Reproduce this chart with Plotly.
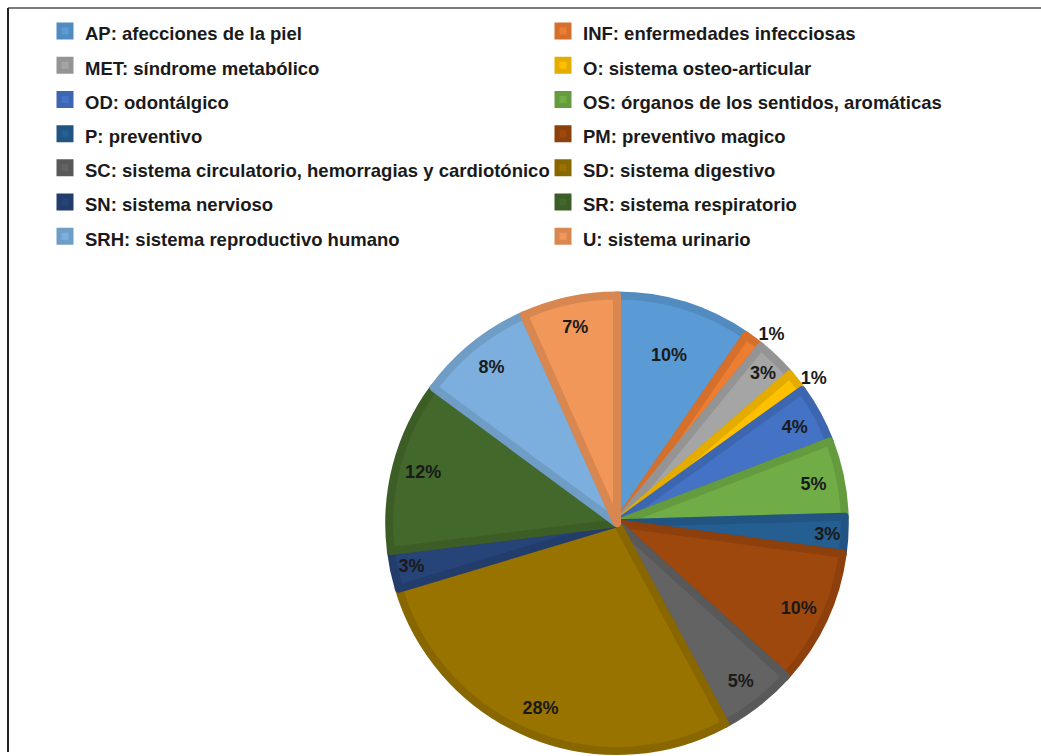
import plotly.graph_objects as go

W, H = 1041, 756

labels = [
    "AP: afecciones de la piel",
    "INF: enfermedades infecciosas",
    "MET: síndrome metabólico",
    "O: sistema osteo-articular",
    "OD: odontálgico",
    "OS: órganos de los sentidos, aromáticas",
    "P: preventivo",
    "PM: preventivo magico",
    "SC: sistema circulatorio, hemorragias y cardiotónico",
    "SD: sistema digestivo",
    "SN: sistema nervioso",
    "SR: sistema respiratorio",
    "SRH: sistema reproductivo humano",
    "U: sistema urinario",
]
values = [9.6, 1.3, 2.8, 1.4, 4.1, 5.4, 2.6, 9.6, 5.4, 28.3, 2.7, 12.1, 8.2, 6.7]
colors = [
    "#5B9BD5", "#ED7D31", "#A5A5A5", "#FFC000", "#4472C4", "#70AD47", "#255E91",
    "#9E480E", "#636363", "#997300", "#264478", "#43682B", "#7CAFDD", "#F1975A",
]
outside_labels = ["INF: enfermedades infecciosas", "O: sistema osteo-articular"]
main_labelled = ["AP: afecciones de la piel"]


def darker(hex_color, f=0.9):
    h = hex_color.lstrip("#")
    r, g, b = (int(h[i:i + 2], 16) for i in (0, 2, 4))
    return "#%02X%02X%02X" % (int(r * f), int(g * f), int(b * f))


border_colors = [darker(c) for c in colors]
legend_text = [f"<span style='font-size:18.5px'>{l}</span>" for l in labels]

# pie geometry (pixels); stroke of 8px adds 4px outside the radius
cx, cy, R = 617, 526, 229
dom_x = [(cx - R) / W, (cx + R) / W]
dom_y = [1 - (cy + R) / H, 1 - (cy - R) / H]

main_pos = ["inside" if l in main_labelled else "none" for l in labels]
ring_pos = [
    "none" if l in main_labelled else ("outside" if l in outside_labels else "inside")
    for l in labels
]

label_font = dict(family="Liberation Sans", size=18, color="#1a1a1a", weight="bold")

fig = go.Figure()
fig.add_trace(go.Pie(
    labels=legend_text,
    values=values,
    sort=False,
    direction="clockwise",
    rotation=0,
    marker=dict(colors=colors, line=dict(color=border_colors, width=8)),
    texttemplate="%{percent:.0%}",
    textposition=main_pos,
    insidetextorientation="auto",
    textfont=label_font,
    domain=dict(x=dom_x, y=dom_y),
    showlegend=True,
    hoverinfo="label+percent",
))
fig.add_trace(go.Pie(
    labels=legend_text,
    values=values,
    sort=False,
    direction="clockwise",
    rotation=0,
    hole=0.76,
    marker=dict(colors=["rgba(0,0,0,0)"] * len(labels), line=dict(width=0)),
    texttemplate="%{percent:.0%}",
    textposition=ring_pos,
    insidetextorientation="auto",
    textfont=label_font,
    domain=dict(x=dom_x, y=dom_y),
    showlegend=False,
    hoverinfo="skip",
))

fig.update_layout(
    width=W, height=H,
    autosize=False,
    margin=dict(l=0, r=0, t=0, b=0),
    paper_bgcolor="white",
    plot_bgcolor="white",
    uniformtext=dict(minsize=18, mode="show"),
    legend=dict(
        orientation="h",
        x=63 / W, xanchor="left",
        y=1 - 9 / H, yanchor="top",
        entrywidth=453, entrywidthmode="pixels",
        font=dict(family="Liberation Sans", size=24, color="#1a1a1a", weight="bold"),
        bgcolor="rgba(0,0,0,0)",
        traceorder="normal",
    ),
    shapes=[
        dict(type="line", xref="paper", yref="paper",
             x0=8 / W, x1=1.0, y0=1 - 8 / H, y1=1 - 8 / H,
             line=dict(color="#7a7a7a", width=2)),
        dict(type="line", xref="paper", yref="paper",
             x0=8 / W, x1=8 / W, y0=1 - 8 / H, y1=0,
             line=dict(color="#222222", width=2)),
    ],
)

fig.write_html("out.html")
